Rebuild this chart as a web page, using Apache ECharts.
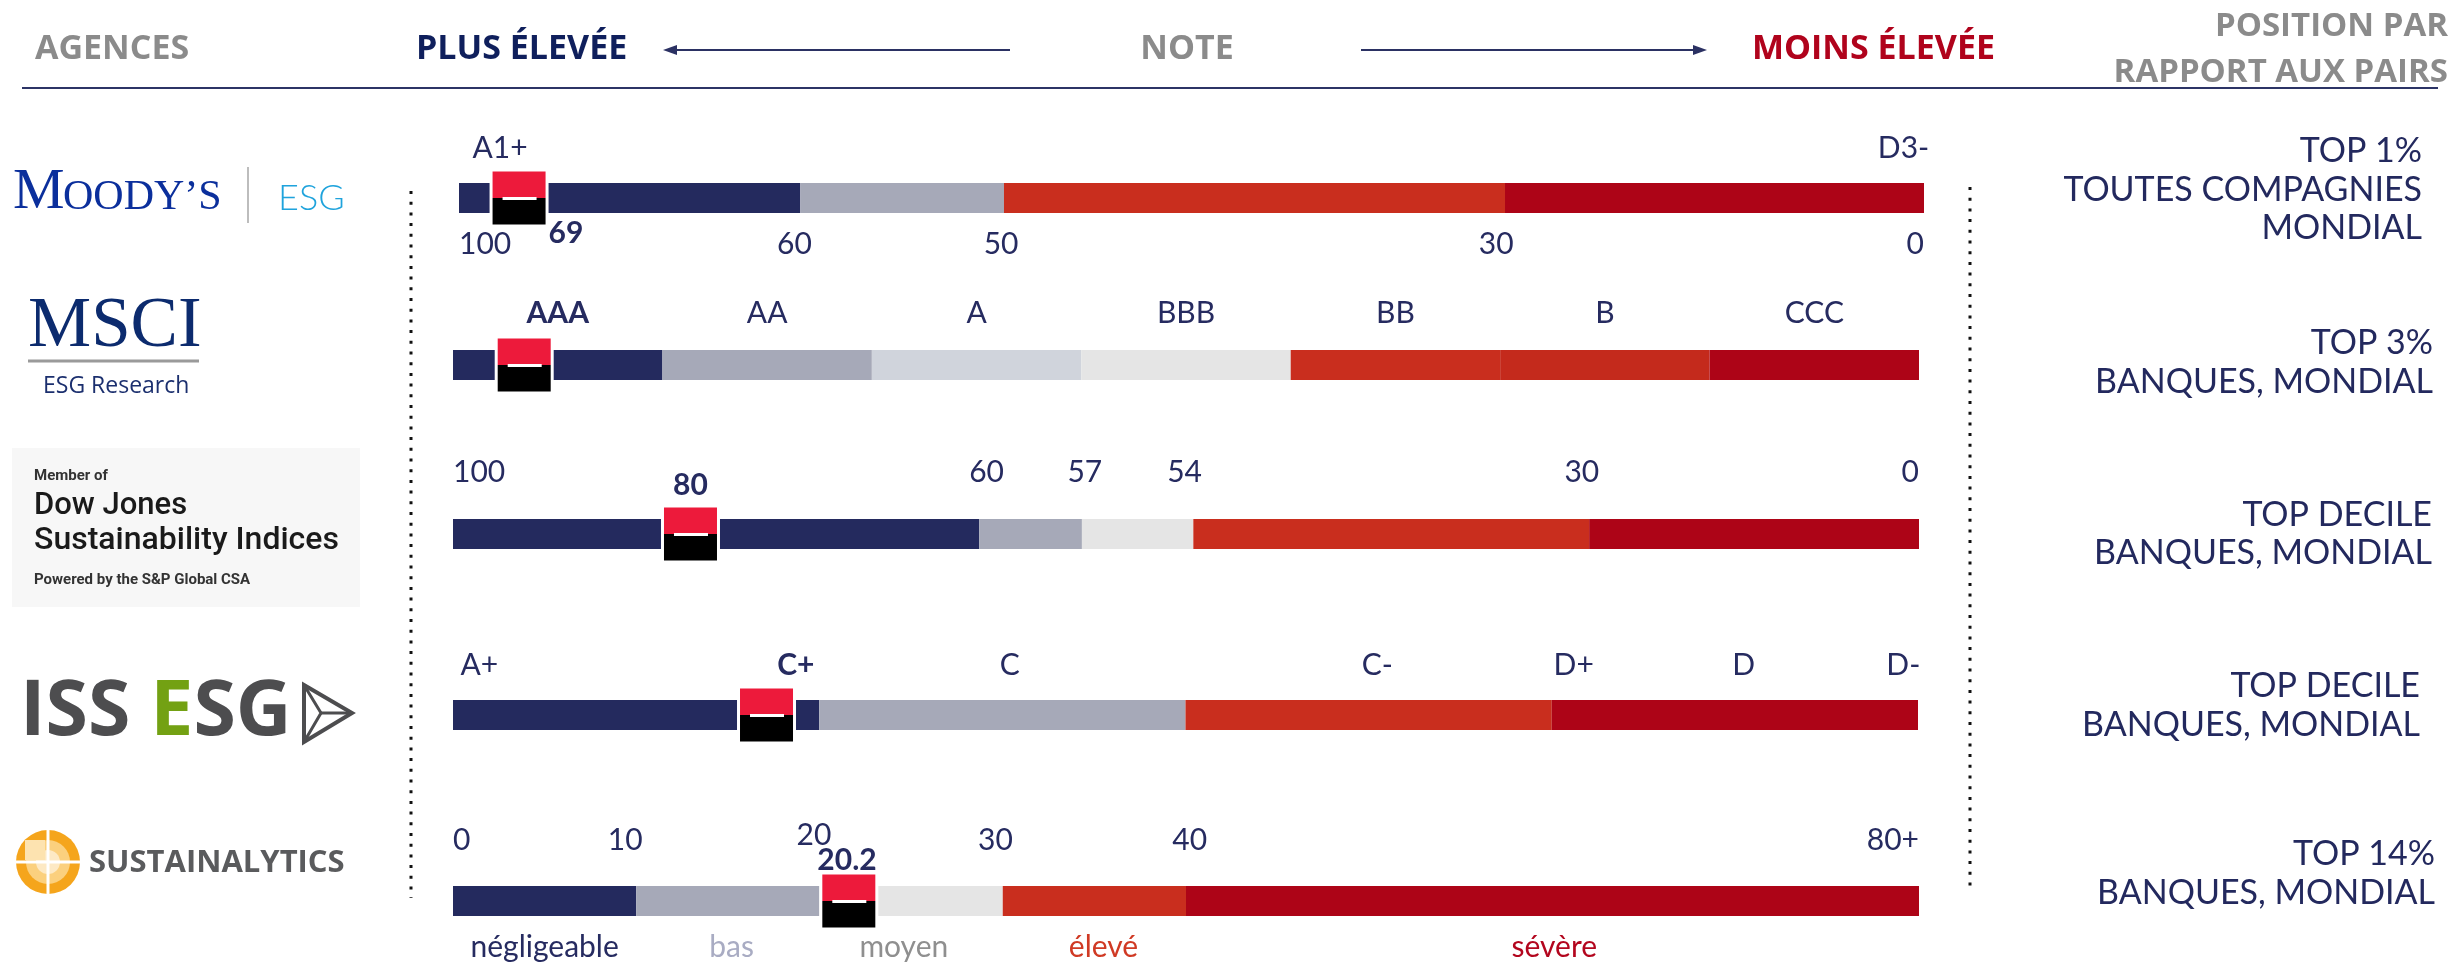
<!DOCTYPE html>
<html lang="fr">
<head>
<meta charset="utf-8">
<title>Notations ESG</title>
<script src="https://cdn.jsdelivr.net/npm/echarts@6.0.0/dist/echarts.min.js"></script>
<style>
  html, body { margin: 0; padding: 0; background: #fff; }
  #chart { width: 2456px; height: 963px; }
</style>
</head>
<body>
<div id="chart"></div>
<script>
// rows, top to bottom
const agencies = ["Moody's ESG", 'MSCI ESG Research', 'DJSI', 'ISS ESG', 'Sustainalytics'];

// Moody's : bands in % of the bar (100-60, 60-50, 50-30, 30-0)
const moodysBands = [23.3, 13.9, 34.2, 28.6];
const moodysTicks = ['100', '60', '50', '30', '0'];
const moodysTickAt = [0, 22.9, 37.0, 70.8, 100];
const moodysGrades = ['A1+', 'D3-'];
const moodysGradeAt = [2.8, 98.6];
const moodysScore = '69';
const moodysScoreAt = 7.3;
const moodysMarkAt = 4.1;

// MSCI : seven letter grades, one band each
const msciGrades = ['AAA', 'AA', 'A', 'BBB', 'BB', 'B', 'CCC'];
const msciBands = [1, 1, 1, 1, 1, 1, 1];
const msciRating = 'AAA';
const msciMarkAt = 0.34;

// DJSI : bands in % of the bar
const djsiBands = [35.9, 7.0, 7.6, 27.0, 22.5];
const djsiTicks = ['100', '60', '57', '54', '30', '0'];
const djsiTickAt = [0, 36.4, 43.1, 49.9, 77.0, 100];
const djsiScore = '80';
const djsiScoreAt = 16.2;
const djsiMarkAt = 16.2;

// ISS ESG : bands in % of the bar
const issBands = [25, 25, 25, 25];
const issGrades = ['A+', 'C+', 'C', 'C-', 'D+', 'D', 'D-'];
const issGradeAt = [1.8, 23.4, 38.0, 63.1, 76.5, 88.1, 99.0];
const issRating = 'C+';
const issMarkAt = 21.4;

// Sustainalytics : risk score 0..80+
const sustBands = [10, 10, 10, 10, 40];
const sustTicks = ['0', '10', '20', '30', '40', '80+'];
const sustTickAt = [0, 9.4, 19.7, 29.6, 40.2, 80];
const sustLevels = ['négligeable', 'bas', 'moyen', 'élevé', 'sévère'];
const sustLevelAt = [5.0, 15.2, 24.6, 35.5, 60.1];
const sustScore = '20.2';
const sustScoreAt = 21.5;
const sustMarkAt = 21.6;

// position par rapport aux pairs
const peerRank = [
  ['TOP 1%', 'TOUTES COMPAGNIES', 'MONDIAL'],
  ['TOP 3%', 'BANQUES, MONDIAL'],
  ['TOP DECILE', 'BANQUES, MONDIAL'],
  ['TOP DECILE', 'BANQUES, MONDIAL'],
  ['TOP 14%', 'BANQUES, MONDIAL']
];

const NAVY = '#242a5e', GREY = '#a6a9b8', LIGHT = '#d0d4dc', PALE = '#e5e5e5',
      ORANGE = '#c92e1e', ORANGE2 = '#c42a1c', RED = '#ad0417', INK = '#262b60';

const rows = [
  { left: 459, top: 183, width: 1465, max: 100, bands: moodysBands, colors: [NAVY, GREY, ORANGE, RED], mark: moodysMarkAt },
  { left: 453, top: 350, width: 1466, max: 7, bands: msciBands, colors: [NAVY, GREY, LIGHT, PALE, ORANGE, ORANGE2, RED], mark: msciMarkAt },
  { left: 453, top: 519, width: 1466, max: 100, bands: djsiBands, colors: [NAVY, GREY, PALE, ORANGE, RED], mark: djsiMarkAt },
  { left: 453, top: 700, width: 1465, max: 100, bands: issBands, colors: [NAVY, GREY, ORANGE, RED], mark: issMarkAt },
  { left: 453, top: 886, width: 1466, max: 80, bands: sustBands, colors: [NAVY, GREY, PALE, ORANGE, RED], mark: sustMarkAt }
];

function bandCenters(bands) {
  let acc = 0;
  return bands.map(w => { acc += w; return acc - w / 2; });
}

// red/black square showing the rating on the bar
function markerSeries(gi, at) {
  return {
    type: 'custom', xAxisIndex: gi, yAxisIndex: gi, silent: true, z: 4,
    data: [[at, 0]],
    renderItem: function (params, api) {
      const p = api.coord([api.value(0), 0]);
      const s = 53, x = p[0] - s / 2, y = p[1] - s / 2;
      return {
        type: 'group', children: [
          { type: 'rect', shape: { x: x - 3, y: y, width: s + 6, height: s }, style: { fill: '#fff' } },
          { type: 'rect', shape: { x: x, y: y, width: s, height: s / 2 }, style: { fill: '#ed1a3b' } },
          { type: 'rect', shape: { x: x, y: y + s / 2, width: s, height: s / 2 }, style: { fill: '#000' } },
          { type: 'rect', shape: { x: x + 10, y: y + s / 2 - 1, width: s - 19, height: 3 }, style: { fill: '#fff' } }
        ]
      };
    }
  };
}

function labelSeries(gi, texts, at, dy, o) {
  o = o || {};
  return {
    type: 'custom', xAxisIndex: gi, yAxisIndex: gi, silent: true, z: 6,
    data: at.map(v => [v, 0]),
    renderItem: function (params, api) {
      const i = params.dataIndex;
      const p = api.coord([api.value(0), 0]);
      let align = 'center';
      if (o.edges && i === 0) align = 'left';
      if (o.edges && i === texts.length - 1) align = 'right';
      const strong = o.strong === texts[i];
      const shift = (o.shift && o.shift[texts[i]]) || 0;
      return {
        type: 'text', x: p[0], y: p[1] + dy + shift,
        style: {
          text: texts[i], textAlign: align, textVerticalAlign: 'middle',
          fontFamily: 'Lato', fontSize: 30, fontWeight: strong ? 'bold' : 'normal',
          fill: o.colors ? o.colors[i] : INK
        }
      };
    }
  };
}

const grid = [], xAxis = [], yAxis = [], series = [];
rows.forEach((r, i) => {
  grid.push({ left: r.left, top: r.top, width: r.width, height: 30 });
  xAxis.push({ gridIndex: i, type: 'value', min: 0, max: r.max, show: false });
  yAxis.push({ gridIndex: i, type: 'category', data: [agencies[i]], show: false });
  r.bands.forEach((w, k) => series.push({
    type: 'bar', xAxisIndex: i, yAxisIndex: i, stack: 'row' + i, barWidth: 30,
    data: [w], itemStyle: { color: r.colors[k] }, silent: true
  }));
});
rows.forEach((r, i) => series.push(markerSeries(i, r.mark)));

series.push(
  labelSeries(0, moodysGrades, moodysGradeAt, -50),
  labelSeries(0, moodysTicks, moodysTickAt, 46, { edges: true }),
  labelSeries(0, [moodysScore], [moodysScoreAt], 35, { strong: moodysScore }),
  labelSeries(1, msciGrades, bandCenters(msciBands), -52, { strong: msciRating }),
  labelSeries(2, djsiTicks, djsiTickAt, -62, { edges: true }),
  labelSeries(2, [djsiScore], [djsiScoreAt], -49, { strong: djsiScore }),
  labelSeries(3, issGrades, issGradeAt, -50, { strong: issRating }),
  labelSeries(4, sustTicks, sustTickAt, -61, { edges: true, shift: { '20': -5 } }),
  labelSeries(4, [sustScore], [sustScoreAt], -41, { strong: sustScore }),
  labelSeries(4, sustLevels, sustLevelAt, 46, { colors: [INK, '#a9acc3', '#8f8f8f', '#d03a24', '#b3061e'] })
);

// static decoration: header, separators, logos, peer ranking
const HEAD_GREY = '#8b8b8b';
const headFont = { fontFamily: 'Open Sans', fontWeight: 'bold', fontSize: 34, textVerticalAlign: 'middle' };
const graphic = [
  { type: 'text', x: 35, y: 49, style: Object.assign({ text: 'AGENCES', fill: HEAD_GREY }, headFont) },
  { type: 'text', x: 416, y: 49, style: Object.assign({ text: 'PLUS ÉLEVÉE', fill: '#0f1f5c' }, headFont) },
  { type: 'text', x: 1187, y: 49, style: Object.assign({ text: 'NOTE', fill: HEAD_GREY, textAlign: 'center' }, headFont) },
  { type: 'text', x: 1752, y: 49, style: Object.assign({ text: 'MOINS ÉLEVÉE', fill: '#b0031c' }, headFont) },
  { type: 'text', x: 2448, y: 27, style: Object.assign({ text: 'POSITION PAR', fill: HEAD_GREY, textAlign: 'right' }, headFont, { fontSize: 33 }) },
  { type: 'text', x: 2448, y: 73, style: Object.assign({ text: 'RAPPORT AUX PAIRS', fill: HEAD_GREY, textAlign: 'right' }, headFont, { fontSize: 33 }) },
  { type: 'line', shape: { x1: 674, y1: 50, x2: 1010, y2: 50 }, style: { stroke: '#2b3163', lineWidth: 2 } },
  { type: 'polygon', shape: { points: [[663, 50], [677, 45], [677, 55]] }, style: { fill: '#2b3163' } },
  { type: 'line', shape: { x1: 1361, y1: 50, x2: 1696, y2: 50 }, style: { stroke: '#2b3163', lineWidth: 2 } },
  { type: 'polygon', shape: { points: [[1707, 50], [1693, 45], [1693, 55]] }, style: { fill: '#2b3163' } },
  { type: 'line', shape: { x1: 22, y1: 88, x2: 2438, y2: 88 }, style: { stroke: '#2c3466', lineWidth: 2 } },
  { type: 'line', shape: { x1: 411, y1: 191, x2: 411, y2: 898 }, style: { stroke: '#111', lineWidth: 3, lineDash: [3, 7.7] } },
  { type: 'line', shape: { x1: 1970, y1: 187, x2: 1970, y2: 892 }, style: { stroke: '#111', lineWidth: 3, lineDash: [3, 7.7] } },

  // Moody's | ESG
  { type: 'text', x: 13, y: 193, style: { text: 'M', fontFamily: 'Liberation Serif', fontSize: 58, fill: '#0b2f9c', textVerticalAlign: 'middle' } },
  { type: 'text', x: 63, y: 198, style: { text: 'OODY’S', fontFamily: 'Liberation Serif', fontSize: 42, fill: '#0b2f9c', textVerticalAlign: 'middle' } },
  { type: 'line', shape: { x1: 248, y1: 167, x2: 248, y2: 223 }, style: { stroke: '#bdbdbd', lineWidth: 2 } },
  { type: 'text', x: 278, y: 198, style: { text: 'ESG', fontFamily: 'Lato', fontWeight: 300, fontSize: 36, fill: '#1fa3dc', textVerticalAlign: 'middle' } },

  // MSCI
  { type: 'text', x: 28, y: 327, style: { text: 'MSCI', fontFamily: 'Liberation Serif', fontSize: 71, fill: '#0c2b6e', textVerticalAlign: 'middle' } },
  { type: 'line', shape: { x1: 28, y1: 361, x2: 199, y2: 361 }, style: { stroke: '#9a9a9a', lineWidth: 3 } },
  { type: 'text', x: 43, y: 386, style: { text: 'ESG Research', fontFamily: 'Open Sans', fontSize: 23, fill: '#1b2f6e', textVerticalAlign: 'middle' } },

  // DJSI
  { type: 'rect', shape: { x: 12, y: 448, width: 348, height: 159 }, style: { fill: '#f7f7f7' } },
  { type: 'text', x: 34, y: 476, style: { text: 'Member of', fontFamily: 'Roboto', fontWeight: 'bold', fontSize: 15, fill: '#333', textVerticalAlign: 'middle' } },
  { type: 'text', x: 34, y: 506, style: { text: 'Dow Jones', fontFamily: 'Roboto', fontWeight: 500, fontSize: 31, fill: '#1a1a1a', textVerticalAlign: 'middle' } },
  { type: 'text', x: 34, y: 541, style: { text: 'Sustainability Indices', fontFamily: 'Roboto', fontWeight: 500, fontSize: 32, fill: '#1a1a1a', textVerticalAlign: 'middle' } },
  { type: 'text', x: 34, y: 580, style: { text: 'Powered by the S&P Global CSA', fontFamily: 'Roboto', fontWeight: 'bold', fontSize: 15, fill: '#333', textVerticalAlign: 'middle' } },

  // ISS ESG
  { type: 'text', x: 20, y: 713, style: {
      text: '{g|ISS }{e|E}{g|SG}', textVerticalAlign: 'middle',
      rich: {
        g: { fontFamily: 'Open Sans', fontWeight: 'bold', fontSize: 77, fill: '#4d4d4f' },
        e: { fontFamily: 'Open Sans', fontWeight: 'bold', fontSize: 77, fill: '#73a113' }
      } } },
  { type: 'polygon', shape: { points: [[304, 685], [352, 713], [304, 742]] }, style: { fill: 'none', stroke: '#4d4d4f', lineWidth: 4 } },
  { type: 'polyline', shape: { points: [[304, 685], [321, 713], [304, 742]] }, style: { stroke: '#4d4d4f', lineWidth: 3, fill: 'none' } },
  { type: 'line', shape: { x1: 321, y1: 713, x2: 352, y2: 713 }, style: { stroke: '#4d4d4f', lineWidth: 3 } },

  // Sustainalytics
  { type: 'circle', shape: { cx: 48, cy: 862, r: 32 }, style: { fill: '#f5a51c' } },
  { type: 'circle', shape: { cx: 48, cy: 862, r: 22 }, style: { fill: '#fbd07e' } },
  { type: 'circle', shape: { cx: 48, cy: 862, r: 12 }, style: { fill: '#fde9c4' } },
  { type: 'rect', shape: { x: 25, y: 840, width: 20, height: 20 }, style: { fill: '#fde3b0' } },
  { type: 'line', shape: { x1: 48, y1: 829, x2: 48, y2: 895 }, style: { stroke: '#fff', lineWidth: 3 } },
  { type: 'line', shape: { x1: 15, y1: 862, x2: 81, y2: 862 }, style: { stroke: '#fff', lineWidth: 3 } },
  { type: 'text', x: 89, y: 863, style: { text: 'SUSTAINALYTICS', fontFamily: 'Open Sans', fontWeight: 'bold', fontSize: 31, fill: '#5a5b5d', textVerticalAlign: 'middle' } }
];

const peerTop = [151.5, 343.5, 515, 686.5, 854.5];
const peerRight = [2422, 2433, 2432, 2420, 2435];
peerRank.forEach((lines, i) => lines.forEach((t, k) => graphic.push({
  type: 'text', x: peerRight[i], y: peerTop[i] + k * 38.5,
  style: { text: t, textAlign: 'right', textVerticalAlign: 'middle', fontFamily: 'Lato', fontSize: 34, fill: '#23295e' }
})));

const chart = echarts.init(document.getElementById('chart'));
chart.setOption({
  animation: false,
  backgroundColor: '#fff',
  grid: grid,
  xAxis: xAxis,
  yAxis: yAxis,
  series: series,
  graphic: graphic
});
</script>
</body>
</html>
